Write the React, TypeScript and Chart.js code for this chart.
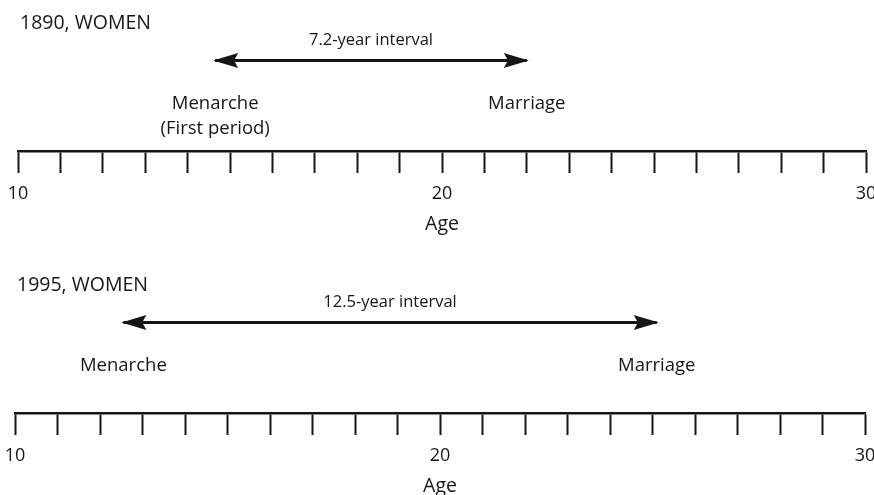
import React, { useEffect, useRef } from 'react';
import { Chart, registerables } from 'chart.js';

Chart.register(...registerables);

// ---- data ----
const PANEL_TITLES = ['1890, WOMEN', '1995, WOMEN'];
const MENARCHE_AGE = [14.65, 12.55];
const MARRIAGE_AGE = [22.0, 25.1];
const INTERVAL_LABELS = ['7.2-year interval', '12.5-year interval'];
const START_LABELS = [['Menarche', '(First period)'], ['Menarche']];
const END_LABELS = ['Marriage', 'Marriage'];
const AGE_TICKS = [10, 20, 30];
const AGE_MIN = 10;
const AGE_MAX = 30;
const AXIS_TITLE = 'Age';

// ---- styling ----
const FONT = '"Open Sans", "Noto Sans", sans-serif';
const INK = '#161616';
const ARROW_LEVEL = 6;

const annotate = {
  id: 'annotate',
  afterDatasetsDraw(chart: any, _args: any, opts: any) {
    const { ctx } = chart;
    const xs = chart.scales.x;
    const ys = chart.scales.y;
    const i = opts.index;
    const y = ys.getPixelForValue(ARROW_LEVEL);
    const x0 = xs.getPixelForValue(MENARCHE_AGE[i]);
    const x1 = xs.getPixelForValue(MARRIAGE_AGE[i]);
    ctx.save();
    ctx.fillStyle = INK;
    const L = 23;
    const H = 7.5;
    // left head
    ctx.beginPath();
    ctx.moveTo(x0 - 2, y);
    ctx.lineTo(x0 + L, y - H);
    ctx.lineTo(x0 + L * 0.82, y);
    ctx.lineTo(x0 + L, y + H);
    ctx.closePath();
    ctx.fill();
    // right head
    ctx.beginPath();
    ctx.moveTo(x1 + 2, y);
    ctx.lineTo(x1 - L, y - H);
    ctx.lineTo(x1 - L * 0.82, y);
    ctx.lineTo(x1 - L, y + H);
    ctx.closePath();
    ctx.fill();

    ctx.textBaseline = 'middle';
    ctx.textAlign = 'center';
    ctx.font = `16.5px ${FONT}`;
    ctx.fillText(INTERVAL_LABELS[i], (x0 + x1) / 2, y - 20);

    ctx.font = `18.5px ${FONT}`;
    START_LABELS[i].forEach((t, j) => ctx.fillText(t, x0, y + 43 + j * 25));
    ctx.fillText(END_LABELS[i], x1, y + 43);

    ctx.textAlign = 'left';
    ctx.font = `19.5px ${FONT}`;
    ctx.fillText(PANEL_TITLES[i], xs.left + 2, y - 37);
    ctx.restore();
  },
};

function Panel({ index, top, height, padLeft, padRight, padBottom }: any) {
  const ref = useRef<HTMLCanvasElement | null>(null);
  useEffect(() => {
    if (!ref.current) return;
    const chart = new Chart(ref.current, {
      type: 'line',
      data: {
        datasets: [
          {
            data: [
              { x: MENARCHE_AGE[index], y: ARROW_LEVEL },
              { x: MARRIAGE_AGE[index], y: ARROW_LEVEL },
            ],
            borderColor: INK,
            borderWidth: 3,
            pointRadius: 0,
            fill: false,
          },
        ],
      },
      options: {
        animation: false,
        responsive: false,
        maintainAspectRatio: false,
        layout: { padding: { left: padLeft, right: padRight, top: 0, bottom: padBottom } },
        plugins: {
          legend: { display: false },
          tooltip: { enabled: false },
          annotate: { index },
        } as any,
        scales: {
          x: {
            type: 'linear',
            min: AGE_MIN,
            max: AGE_MAX,
            afterFit(s: any) {
              s.height = 85;
              s.paddingLeft = 0;
              s.paddingRight = 0;
            },
            ticks: {
              stepSize: 1,
              autoSkip: false,
              maxRotation: 0,
              padding: 10,
              color: INK,
              font: { family: FONT, size: 18 },
              callback: (v: any) => (AGE_TICKS.includes(Number(v)) ? String(v) : ''),
            },
            grid: {
              drawOnChartArea: false,
              drawTicks: true,
              tickLength: 22,
              tickWidth: 2,
              tickColor: INK,
            },
            border: { display: true, color: INK, width: 2.5 },
            title: {
              display: true,
              text: AXIS_TITLE,
              color: INK,
              font: { family: FONT, size: 19.5 },
              padding: { top: 0, bottom: 0 },
            },
          },
          y: { display: false, min: 0, max: 10 },
        },
      },
      plugins: [annotate],
    });
    return () => chart.destroy();
  }, [index, padLeft, padRight, padBottom]);
  return (
    <canvas
      ref={ref}
      width={874}
      height={height}
      style={{ position: 'absolute', left: 0, top, width: 874, height }}
    />
  );
}

export default function App() {
  return (
    <div
      style={{
        position: 'fixed',
        left: 0,
        top: 0,
        width: 874,
        height: 495,
        background: '#fff',
        overflow: 'hidden',
      }}
    >
      <Panel index={0} top={0} height={250} padLeft={18} padRight={8} padBottom={14} />
      <Panel index={1} top={262} height={236} padLeft={15} padRight={9} padBottom={0} />
    </div>
  );
}
